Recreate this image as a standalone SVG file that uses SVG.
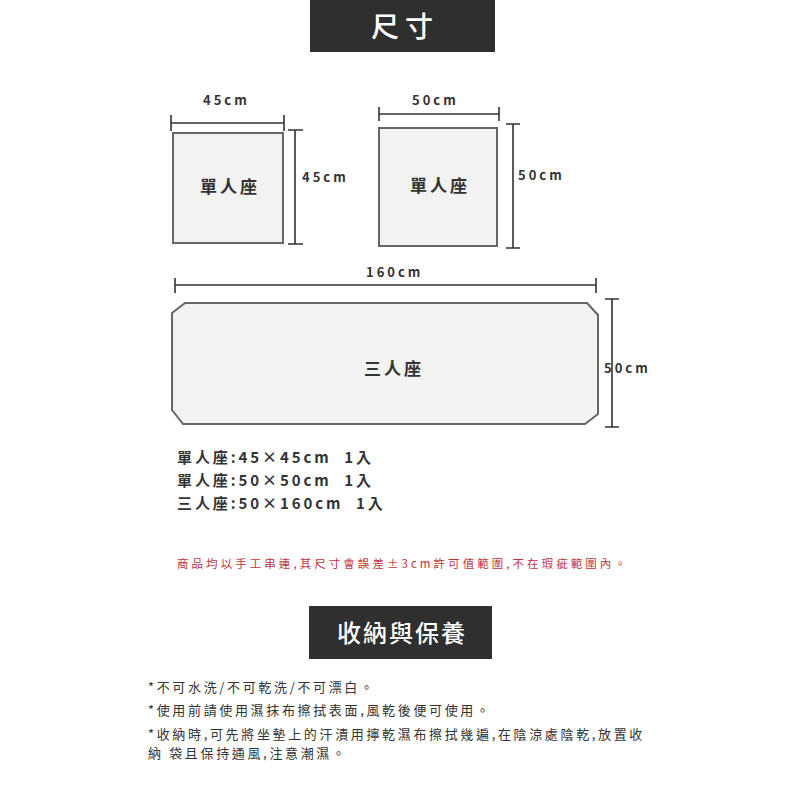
<svg xmlns="http://www.w3.org/2000/svg" width="800" height="800" viewBox="0 0 800 800">
<style>
text{font-family:"Noto Sans CJK TC","Noto Sans CJK SC","Noto Sans",sans-serif;}
.hdr{fill:#2f2f2f;}
.htxt{fill:#ffffff;text-anchor:middle;font-weight:500;}
.seat{fill:#f2f2f2;stroke:#666666;stroke-width:2;}
.dim{stroke:#333333;stroke-width:1.6;fill:none;}
.dl{fill:#333333;font-size:13px;font-weight:bold;letter-spacing:3px;}
.nl{fill:#333333;font-size:17px;font-weight:bold;letter-spacing:3px;text-anchor:middle;}
.spec{fill:#333333;font-size:15px;font-weight:bold;letter-spacing:2.9px;white-space:pre;}
.note{fill:#c0333a;font-size:11.5px;letter-spacing:3.05px;}
.care{fill:#333333;font-size:13px;letter-spacing:2.65px;}
</style>
<rect width="800" height="800" fill="#ffffff"/>

<g id="title-size">
<rect class="hdr" x="310" y="0" width="185" height="52"/>
<text class="htxt" x="405" y="37" font-size="28" letter-spacing="6">尺寸</text>
</g>

<g id="seat-45">
<rect class="seat" x="173" y="133" width="110" height="110"/>
<text class="nl" x="230" y="193">單人座</text>
</g>

<g id="seat-50">
<rect class="seat" x="379" y="128" width="118" height="118"/>
<text class="nl" x="440" y="192">單人座</text>
</g>

<g id="seat-160">
<polygon class="seat" points="185,303 587,303 598,315 598,414 585,424 183,424 172,410 172,313"/>
<text class="nl" x="394" y="375">三人座</text>
</g>

<g id="dimensions">
<path class="dim" d="M171,123 H284 M171,115 V131 M284,115 V131"/>
<path class="dim" d="M295,130 V244 M288,130 H303 M288,244 H303"/>
<path class="dim" d="M379,114 H499 M379,107 V121 M499,107 V121"/>
<path class="dim" d="M513,124 V248 M506,124 H520 M506,248 H520"/>
<path class="dim" d="M175,285 H596 M175,278 V293 M596,278 V293"/>
<path class="dim" d="M612,299 V427 M605,299 H619 M605,427 H619"/>
<text class="dl" x="203" y="105">45cm</text>
<text class="dl" x="302" y="182">45cm</text>
<text class="dl" x="412" y="105">50cm</text>
<text class="dl" x="518" y="180">50cm</text>
<text class="dl" x="366" y="277">160cm</text>
<text class="dl" x="604" y="373">50cm</text>
</g>

<g id="specs">
<text class="spec" x="177" y="463" xml:space="preserve">單人座:45×45cm  1入</text>
<text class="spec" x="177" y="486" xml:space="preserve">單人座:50×50cm  1入</text>
<text class="spec" x="177" y="509" xml:space="preserve">三人座:50×160cm  1入</text>
</g>

<text class="note" x="177" y="568">商品均以手工串連,其尺寸會誤差±3cm許可值範圍,不在瑕疵範圍內。</text>

<g id="title-care">
<rect class="hdr" x="309" y="606" width="183" height="53"/>
<text class="htxt" x="402" y="642" font-size="24" letter-spacing="2">收納與保養</text>
</g>

<g id="care-text">
<text class="care" x="148" y="692">*不可水洗/不可乾洗/不可漂白。</text>
<text class="care" x="148" y="715">*使用前請使用濕抹布擦拭表面,風乾後便可使用。</text>
<text class="care" x="148" y="739">*收納時,可先將坐墊上的汗漬用擰乾濕布擦拭幾遍,在陰涼處陰乾,放置收</text>
<text class="care" x="148" y="758" xml:space="preserve">納 袋且保持通風,注意潮濕。</text>
</g>
</svg>
